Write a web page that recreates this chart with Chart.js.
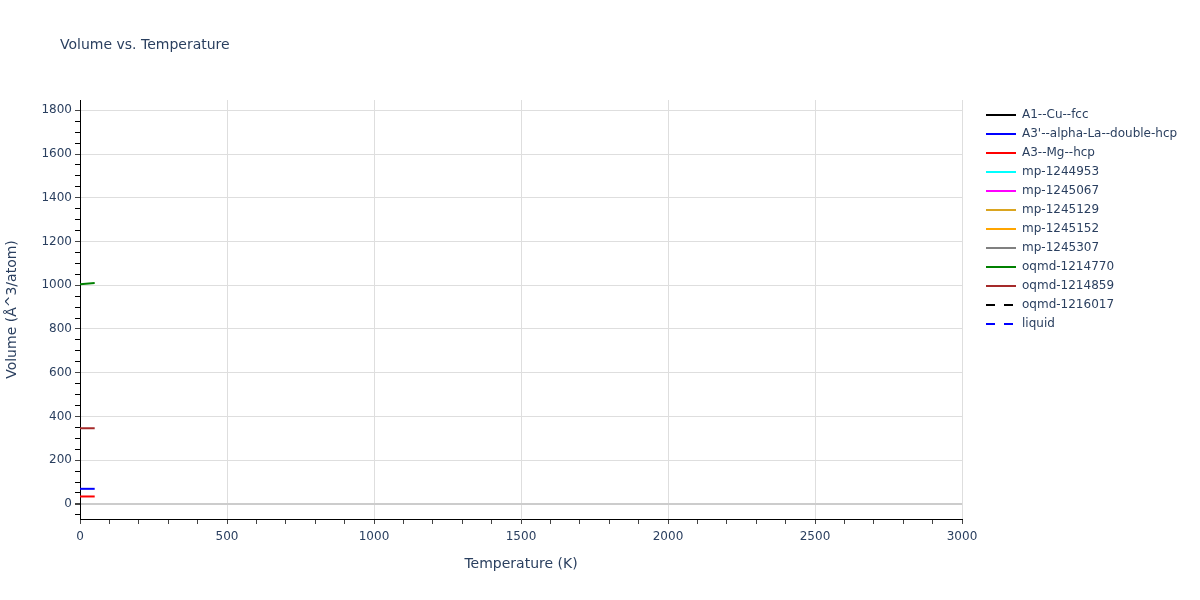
<!DOCTYPE html>
<html lang="en">
  <head>
    <meta charset="UTF-8" />
    <title>Volume vs. Temperature</title>
    <script src="https://cdn.jsdelivr.net/npm/chart.js@4.4.1/dist/chart.umd.min.js"></script>
    <style>
      body {
        margin: 0;
        background: #fff;
      }
    </style>
  </head>
  <body>
    <canvas id="chart" width="1200" height="600"></canvas>

    <script>
      // temperatures (K) the curves were read at
      const temps = [0, 50];

      const seriesNames = [
        "A1--Cu--fcc",
        "A3'--alpha-La--double-hcp",
        "A3--Mg--hcp",
        "mp-1244953",
        "mp-1245067",
        "mp-1245129",
        "mp-1245152",
        "mp-1245307",
        "oqmd-1214770",
        "oqmd-1214859",
        "oqmd-1216017",
        "liquid",
      ];
      const seriesColors = [
        "#000000", "#0000ff", "#ff0000", "#00ffff", "#ff00ff", "#daa520",
        "#ffa500", "#808080", "#008000", "#a52a2a", "#000000", "#0000ff",
      ];
      const dashed = [false, false, false, false, false, false, false, false, false, false, true, true];

      // volume (Å^3/atom) per series, at temps[]
      const volA1 = [];
      const volA3alphaLa = [69, 69];
      const volA3Mg = [34, 34];
      const volMp1244953 = [];
      const volMp1245067 = [];
      const volMp1245129 = [];
      const volMp1245152 = [];
      const volMp1245307 = [];
      const volOqmd1214770 = [1005, 1010];
      const volOqmd1214859 = [346, 346];
      const volOqmd1216017 = [];
      const volLiquid = [];

      const allVols = [
        volA1, volA3alphaLa, volA3Mg, volMp1244953, volMp1245067, volMp1245129,
        volMp1245152, volMp1245307, volOqmd1214770, volOqmd1214859, volOqmd1216017, volLiquid,
      ];

      const textColor = "#2a3f5f";
      const gridColor = "#dedede";
      const font = "'DejaVu Sans', Verdana, sans-serif";

      const datasets = seriesNames.map((name, i) => ({
        label: name,
        data: allVols[i].map((v, j) => ({ x: temps[j], y: v })),
        borderColor: seriesColors[i],
        backgroundColor: seriesColors[i],
        borderWidth: 2,
        borderDash: dashed[i] ? [9, 9] : [],
        pointRadius: 0,
        fill: false,
      }));

      // title at top left
      const titlePlugin = {
        id: "plotTitle",
        afterDraw(chart) {
          const ctx = chart.ctx;
          ctx.save();
          ctx.font = "14px " + font;
          ctx.fillStyle = textColor;
          ctx.textBaseline = "middle";
          ctx.fillText("Volume vs. Temperature", 60, 45);
          ctx.restore();
        },
      };

      // push the legend a bit away from the plot
      const legendShift = {
        id: "legendShift",
        afterLayout(chart) {
          chart.legend.left += 17;
          chart.legend.right += 17;
          chart.legend.top += 2;
          chart.legend.bottom += 2;
        },
      };

      const ctx = document.getElementById("chart").getContext("2d");
      const myChart = new Chart(ctx, {
        type: "line",
        data: { datasets: datasets },
        plugins: [titlePlugin, legendShift],
        options: {
          responsive: false,
          animation: false,
          layout: { padding: { top: 100, left: 0, bottom: 0, right: 20 } },
          plugins: {
            title: { display: false },
            tooltip: { enabled: false },
            legend: {
              position: "right",
              align: "start",
              labels: {
                usePointStyle: true,
                pointStyle: "line",
                pointStyleWidth: 30,
                padding: 7,
                color: textColor,
                font: { family: font, size: 12 },
                generateLabels(chart) {
                  const items = Chart.defaults.plugins.legend.labels.generateLabels(chart);
                  items.forEach((it) => {
                    const ds = chart.data.datasets[it.datasetIndex];
                    it.lineDash = ds.borderDash;
                    it.strokeStyle = ds.borderColor;
                    it.lineWidth = 2;
                  });
                  return items;
                },
              },
            },
          },
          scales: {
            x: {
              type: "linear",
              min: 0,
              max: 3000,
              afterFit(scale) {
                scale.height = 81;
              },
              border: { color: "#000", width: 1 },
              grid: {
                color: (c) => (c.tick && c.tick.value % 500 === 0 && c.tick.value !== 0 ? gridColor : "rgba(0,0,0,0)"),
                tickColor: "#444",
                tickLength: 5,
              },
              ticks: {
                stepSize: 100,
                autoSkip: false,
                maxRotation: 0,
                padding: 6,
                color: textColor,
                font: { family: font, size: 12 },
                callback: (v) => (v % 500 === 0 ? v : ""),
              },
              title: {
                display: true,
                text: "Temperature (K)",
                color: textColor,
                font: { family: font, size: 14 },
                padding: { top: 0, bottom: 27 },
              },
            },
            y: {
              type: "linear",
              min: -69,
              max: 1847,
              afterFit(scale) {
                scale.width = 80;
              },
              border: { color: "#000", width: 1 },
              grid: {
                color: (c) => {
                  if (!c.tick) return "rgba(0,0,0,0)";
                  if (c.tick.value === 0) return "#cccccc";
                  return c.tick.value % 200 === 0 ? gridColor : "rgba(0,0,0,0)";
                },
                lineWidth: (c) => (c.tick && c.tick.value === 0 ? 2 : 1),
                tickColor: (c) => (c.tick && c.tick.value % 200 === 0 ? "#444" : "#000"),
                tickLength: 5,
              },
              ticks: {
                stepSize: 50,
                includeBounds: false,
                autoSkip: false,
                padding: 3,
                color: textColor,
                font: { family: font, size: 12 },
                callback: (v) => (v % 200 === 0 ? v : ""),
              },
              title: {
                display: true,
                text: "Volume (Å^3/atom)",
                color: textColor,
                font: { family: font, size: 14 },
                padding: { top: 4, bottom: 0 },
              },
            },
          },
        },
      });

      // line the plot area up with the right edge at x=962
      const diff = myChart.chartArea.right - 962;
      if (diff) {
        myChart.options.layout.padding.right += diff;
        myChart.update();
      }
    </script>
  </body>
</html>
